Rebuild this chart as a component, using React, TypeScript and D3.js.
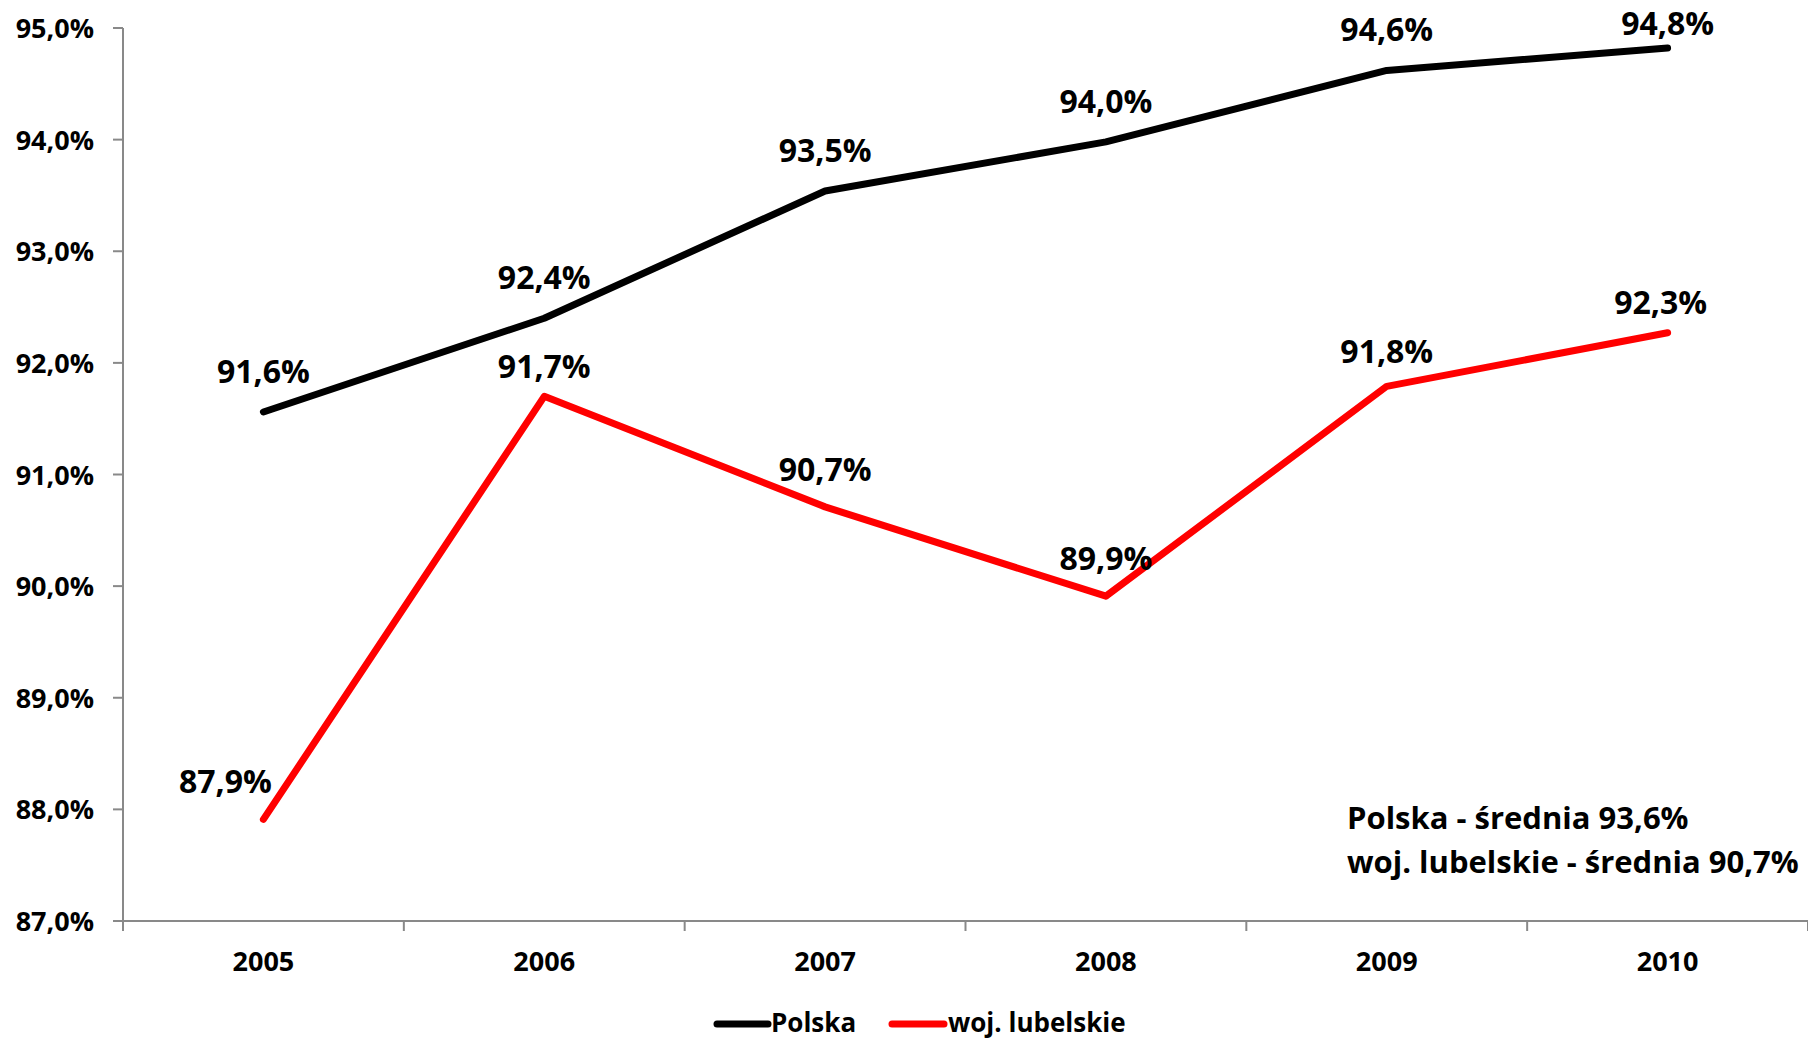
import React, { useEffect } from "react";
import * as d3 from "d3";

const years = ["2005", "2006", "2007", "2008", "2009", "2010"];
const polska = [91.56, 92.4, 93.54, 93.98, 94.62, 94.82];
const lubelskie = [87.91, 91.7, 90.71, 89.91, 91.79, 92.27];
const yTicks = [87, 88, 89, 90, 91, 92, 93, 94, 95];
const seriesNames = ["Polska", "woj. lubelskie"];
const seriesColors = ["#000000", "#ff0000"];
const noteLines = ["Polska - średnia 93,6%", "woj. lubelskie - średnia 90,7%"];
// label placement tweaks (dx, dy) in px relative to default "above" position
const polskaLabelShift = [[0, 0], [0, 0], [0, 0], [0, 0], [0, 0], [0, 16]];
const lubelskieLabelShift = [[-38, 3], [0, 11], [0, 3], [0, 3], [0, 6], [-7, 10]];

const W = 1808;
const H = 1040;
const FONT = "'Open Sans', 'Noto Sans', sans-serif";

const fmt = (v: number) => v.toFixed(1).replace(".", ",") + "%";

export default function App() {
  useEffect(() => {
    document.body.style.margin = "0";
    document.body.style.overflow = "hidden";
  }, []);

  const left = 123;
  const right = 1808;
  const top = 28;
  const bottom = 921;

  const x = d3.scaleBand<string>().domain(years).range([left, right]).padding(0);
  const y = d3.scaleLinear().domain([87, 95]).range([bottom, top]);
  const cx = (i: number) => (x(years[i]) as number) + x.bandwidth() / 2;

  const line = d3
    .line<number>()
    .x((_, i) => cx(i))
    .y((d) => y(d));

  const series = [
    { name: seriesNames[0], values: polska, color: seriesColors[0], shift: polskaLabelShift },
    { name: seriesNames[1], values: lubelskie, color: seriesColors[1], shift: lubelskieLabelShift },
  ];

  const bounds = years.map((yr) => x(yr) as number).concat([right]);

  return (
    <svg width={W} height={H} style={{ display: "block", background: "#fff" }}>
      {/* axes */}
      <g stroke="#898989" strokeWidth={2} fill="none">
        <line x1={left} x2={left} y1={top} y2={bottom} />
        <line x1={left} x2={right} y1={bottom} y2={bottom} />
        {yTicks.map((t) => (
          <line key={t} x1={left - 10} x2={left} y1={y(t)} y2={y(t)} />
        ))}
        {bounds.map((b, i) => (
          <line key={i} x1={b} x2={b} y1={bottom} y2={bottom + 10} />
        ))}
      </g>
      {/* y tick labels */}
      <g fontFamily={FONT} fontWeight={700} fontSize={27} fill="#000" textAnchor="end">
        {yTicks.map((t) => (
          <text key={t} x={94} y={y(t) + 10}>
            {fmt(t)}
          </text>
        ))}
      </g>
      {/* x tick labels */}
      <g fontFamily={FONT} fontWeight={700} fontSize={27} fill="#000" textAnchor="middle">
        {years.map((yr, i) => (
          <text key={yr} x={cx(i)} y={971}>
            {yr}
          </text>
        ))}
      </g>
      {/* lines */}
      {series.map((s) => (
        <path
          key={s.name}
          d={line(s.values) as string}
          fill="none"
          stroke={s.color}
          strokeWidth={7}
          strokeLinecap="round"
          strokeLinejoin="round"
        />
      ))}
      {/* data labels */}
      <g fontFamily={FONT} fontWeight={700} fontSize={32} fill="#000" textAnchor="middle">
        {series.map((s) =>
          s.values.map((v, i) => (
            <text
              key={s.name + i}
              x={cx(i) + s.shift[i][0]}
              y={y(v) - 29 + s.shift[i][1]}
            >
              {fmt(v)}
            </text>
          ))
        )}
      </g>
      {/* note */}
      <g fontFamily={FONT} fontWeight={700} fontSize={31} fill="#000">
        {noteLines.map((t, i) => (
          <text key={i} x={1347} y={829 + i * 44}>
            {t}
          </text>
        ))}
      </g>
      {/* legend */}
      <g fontFamily={FONT} fontWeight={700} fontSize={26} fill="#000">
        <line x1={717} x2={768} y1={1024} y2={1024} stroke={seriesColors[0]} strokeWidth={7} strokeLinecap="round" />
        <text x={771} y={1032}>{seriesNames[0]}</text>
        <line x1={892} x2={944} y1={1024} y2={1024} stroke={seriesColors[1]} strokeWidth={7} strokeLinecap="round" />
        <text x={948} y={1032}>{seriesNames[1]}</text>
      </g>
    </svg>
  );
}
